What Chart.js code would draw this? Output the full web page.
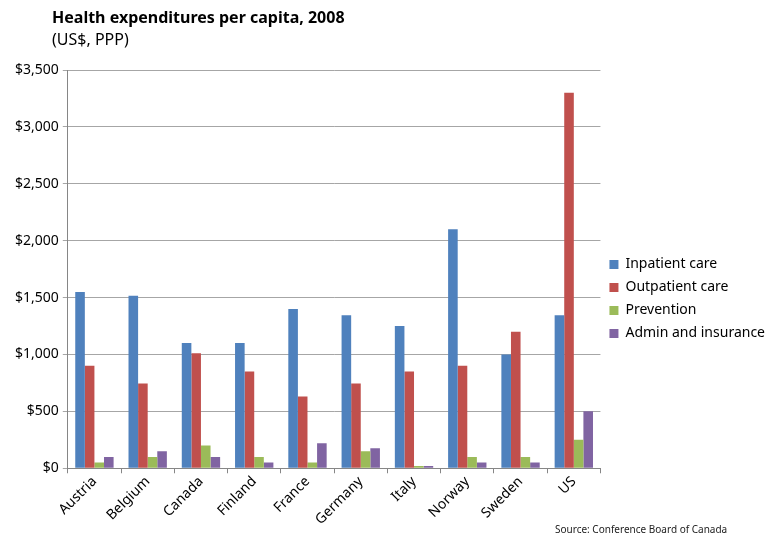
<!DOCTYPE html>
<html>
<head>
<meta charset="utf-8">
<script src="https://cdn.jsdelivr.net/npm/chart.js@4.4.1/dist/chart.umd.min.js"></script>
<style>
  html, body { margin: 0; padding: 0; background: #fff; }
  #wrap { position: relative; width: 768px; height: 536px; }
  canvas { display: block; }
</style>
</head>
<body>
<div id="wrap"><canvas id="c" width="768" height="536"></canvas></div>
<script>
const categories = ["Austria", "Belgium", "Canada", "Finland", "France", "Germany", "Italy", "Norway", "Sweden", "US"];
const inpatient = [1550, 1515, 1100, 1100, 1400, 1345, 1250, 2100, 1000, 1345];
const outpatient = [900, 745, 1010, 850, 630, 745, 850, 900, 1200, 3300];
const prevention = [50, 100, 200, 100, 50, 150, 20, 100, 100, 250];
const admin = [100, 150, 100, 50, 220, 175, 20, 50, 50, 500];
const seriesNames = ["Inpatient care", "Outpatient care", "Prevention", "Admin and insurance"];
const colors = ["#4F81BD", "#C0504D", "#9BBB59", "#8064A2"];
const titleText = "Health expenditures per capita, 2008";
const subtitleText = "(US$, PPP)";
const sourceText = "Source: Conference Board of Canada";

const FONT = "'Noto Sans', 'Open Sans', sans-serif";

const textPlugin = {
  id: 'texts',
  afterDraw(chart) {
    const ctx = chart.ctx;
    ctx.save();
    ctx.fillStyle = '#000';
    ctx.textBaseline = 'alphabetic';
    ctx.textAlign = 'left';
    ctx.font = "bold 16px " + FONT;
    ctx.fillText(titleText, 52, 23);
    ctx.font = "16px " + FONT;
    ctx.fillText(subtitleText, 52, 45);
    ctx.font = "10px " + FONT;
    ctx.fillStyle = '#222';
    ctx.fillText(sourceText, 555, 533);
    ctx.restore();
  }
};

const allSeries = [inpatient, outpatient, prevention, admin];

new Chart(document.getElementById('c'), {
  type: 'bar',
  data: {
    labels: categories,
    datasets: allSeries.map((d, i) => ({
      label: seriesNames[i],
      data: d,
      backgroundColor: colors[i],
      borderWidth: 0,
      categoryPercentage: 0.72,
      barPercentage: 1.0
    }))
  },
  options: {
    responsive: false,
    animation: false,
    layout: { padding: { top: 70, left: 11, right: -7, bottom: 8 } },
    plugins: {
      legend: {
        position: 'right',
        align: 'center',
        labels: {
          font: { family: FONT, size: 14 },
          color: '#000',
          boxWidth: 9,
          boxHeight: 9,
          padding: 9
        }
      },
      title: { display: false },
      tooltip: { enabled: false }
    },
    scales: {
      x: {
        grid: { drawOnChartArea: false, drawTicks: true, tickLength: 5, color: '#868686' },
        border: { color: '#868686' },
        ticks: {
          font: { family: FONT, size: 14 },
          color: '#000',
          maxRotation: 45,
          minRotation: 45,
          padding: 0
        }
      },
      y: {
        min: 0,
        max: 3500,
        grid: { color: '#A6A6A6', tickLength: 5 },
        border: { color: '#868686' },
        ticks: {
          stepSize: 500,
          font: { family: FONT, size: 14 },
          color: '#000',
          padding: 4,
          callback: v => '$' + v.toLocaleString('en-US')
        }
      }
    }
  },
  plugins: [textPlugin]
});
</script>
</body>
</html>
